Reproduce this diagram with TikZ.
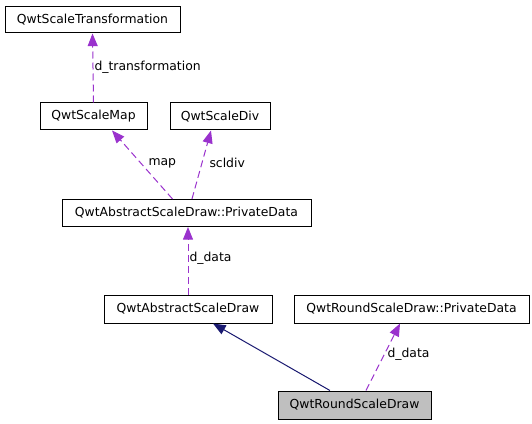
\documentclass[tikz,border=0pt]{standalone}
\usepackage{fontspec}
\setmainfont{DejaVu Sans}
\usetikzlibrary{arrows.meta}

\tikzset{every picture/.style={line width=0.75pt}}
\tikzset{
  cls/.style={draw=black, fill=white, inner sep=0pt, font=\fontsize{9.3}{11}\selectfont},
  usage/.style={draw={rgb,255:red,154;green,50;blue,205}, dash pattern=on 5.25pt off 3pt, -{Triangle[length=9.5pt,width=7.5pt]}},
  inherit/.style={draw={rgb,255:red,25;green,25;blue,112}, -{Triangle[length=9.5pt,width=7.5pt]}},
  lbl/.style={anchor=west, inner sep=0pt, font=\fontsize{9.3}{11}\selectfont}
}

\begin{document}
\begin{tikzpicture}[x=0.75pt,y=0.75pt,yscale=-1,xscale=1]
\useasboundingbox (0,0) rectangle (532,424);

%Shape: Rectangle
\node[cls, minimum width=131.25pt, minimum height=19.5pt] (strans) at (92.5,20) {QwtScaleTransformation};
%Shape: Rectangle
\node[cls, minimum width=80.25pt, minimum height=20.25pt] (smap) at (93.5,116.5) {QwtScaleMap};
%Shape: Rectangle
\node[cls, minimum width=75pt, minimum height=20.25pt] (sdiv) at (220,116.5) {QwtScaleDiv};
%Shape: Rectangle
\node[cls, minimum width=186.75pt, minimum height=20.25pt] (adp) at (186.5,213) {QwtAbstractScaleDraw::PrivateData};
%Shape: Rectangle
\node[cls, minimum width=126pt, minimum height=21pt] (ads) at (188,309) {QwtAbstractScaleDraw};
%Shape: Rectangle
\node[cls, minimum width=176.25pt, minimum height=21pt] (rdp) at (411.5,309) {QwtRoundScaleDraw::PrivateData};
%Shape: Rectangle
\node[cls, fill={rgb,255:red,191;green,191;blue,191}, minimum width=114.75pt, minimum height=21pt] (rsd) at (354.5,405) {QwtRoundScaleDraw};

%Straight Lines
\draw[usage] (smap.north) -- (strans.south);
\draw[usage] ([xshift=-10.5pt]adp.north) -- ([xshift=13.9pt]smap.south);
\draw[usage] ([xshift=4.1pt]adp.north) -- ([xshift=-6.75pt]sdiv.south);
\draw[usage] (ads.north) -- (ads.north |- adp.south);
\draw[inherit] ([xshift=-18.4pt]rsd.north) -- ([xshift=18.75pt]ads.south);
\draw[usage] ([xshift=8.6pt]rsd.north) -- ([xshift=-8.6pt]rdp.south);

%Text
\node[lbl] (ltrans) at (94,67) {d\_transformation};
\node[lbl] (lmap) at (148,163) {map};
\node[lbl] (ldiv) at (209,163) {scldiv};
\node[lbl] (ladp) at (189,258) {d\_data};
\node[lbl] (lrdp) at (387,354) {d\_data};

\end{tikzpicture}
\end{document}
